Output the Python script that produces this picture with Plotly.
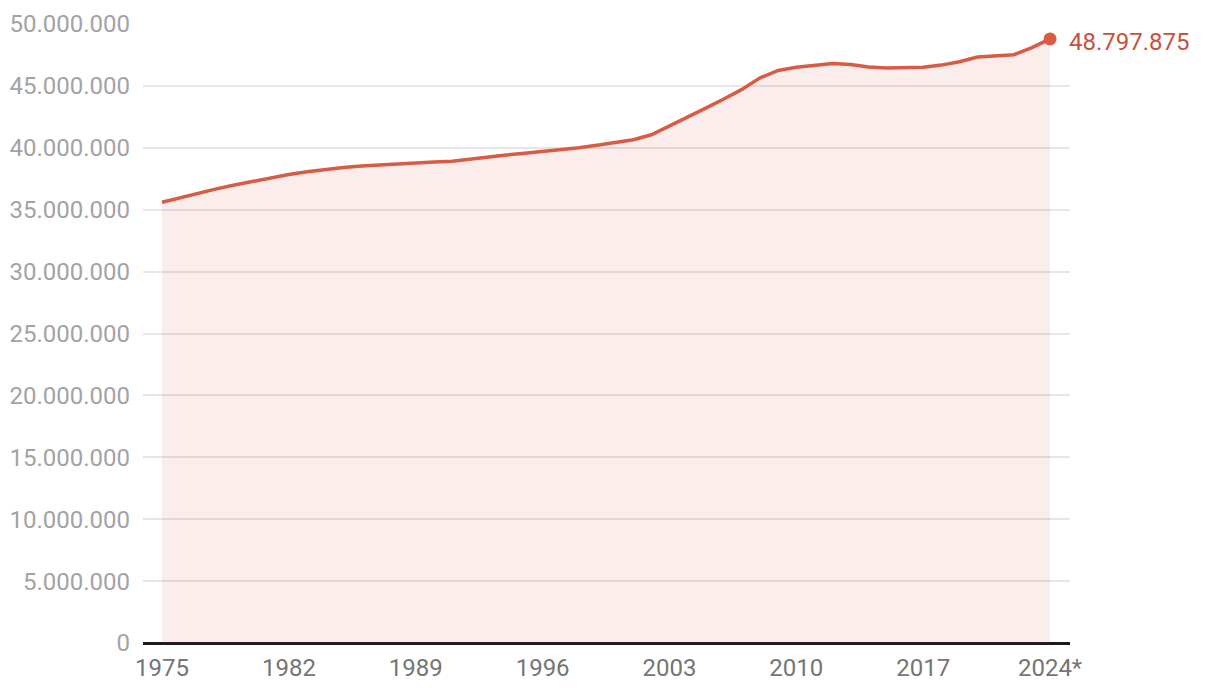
import plotly.graph_objects as go

years = list(range(1975, 2025))
population = [
    35.60, 35.97, 36.33, 36.68, 37.00, 37.30, 37.60, 37.85, 38.07, 38.25,
    38.40, 38.52, 38.62, 38.72, 38.80, 38.86, 38.92, 39.10, 39.27, 39.42,
    39.56, 39.70, 39.85, 40.00, 40.20, 40.40, 40.65, 41.05, 41.75, 42.45,
    43.20, 43.94, 44.72, 45.65, 46.25, 46.50, 46.68, 46.80, 46.72, 46.52,
    46.45, 46.44, 46.50, 46.68, 46.95, 47.33, 47.42, 47.52, 48.10, 48.797875,
]
population = [round(v * 1e6) for v in population]
population[-1] = 48797875

x_tickvals = [1975, 1982, 1989, 1996, 2003, 2010, 2017, 2024]
x_ticktext = ["1975", "1982", "1989", "1996", "2003", "2010", "2017", "2024*"]
y_tickvals = [0, 5e6, 10e6, 15e6, 20e6, 25e6, 30e6, 35e6, 40e6, 45e6, 50e6]
last_label = "48.797.875"

LINE = "#d95b43"
FONT = "Roboto"

fig = go.Figure()
fig.add_trace(go.Scatter(
    x=years, y=population, mode="lines",
    line=dict(color=LINE, width=3.5),
    fill="tozeroy", fillcolor="rgba(222,90,70,0.11)",
    hoverinfo="skip",
))
fig.add_trace(go.Scatter(
    x=[years[-1]], y=[population[-1]], mode="markers",
    marker=dict(color=LINE, size=13),
    hoverinfo="skip",
))
fig.add_annotation(
    x=years[-1], y=population[-1], text=last_label,
    showarrow=False, xanchor="left", yanchor="middle", xshift=17, yshift=-3,
    font=dict(family=FONT, size=24, color="#c9503a"),
)

fig.update_layout(
    width=1220, height=694,
    margin=dict(l=143, r=150, t=24, b=51),
    paper_bgcolor="white", plot_bgcolor="white",
    showlegend=False,
    separators=",.",
    font=dict(family=FONT),
)
fig.update_xaxes(
    range=[1973.95, 2025.1],
    tickvals=x_tickvals, ticktext=x_ticktext,
    showgrid=False, zeroline=False,
    showline=False, ticks="",
    tickfont=dict(family=FONT, size=24, color="#757575"),
    ticklabelstandoff=8, automargin=False,
)
fig.update_yaxes(
    range=[0, 50e6],
    tickvals=y_tickvals, tickformat=",d",
    showgrid=True, gridcolor="#e6e6e6", gridwidth=1.5,
    zeroline=True, zerolinecolor="#1a1a1a", zerolinewidth=2.5,
    showline=False, ticks="",
    tickfont=dict(family=FONT, size=24, color="#a3a3a3"),
    ticklabelstandoff=12, automargin=False,
)

fig.write_html("out.html")
